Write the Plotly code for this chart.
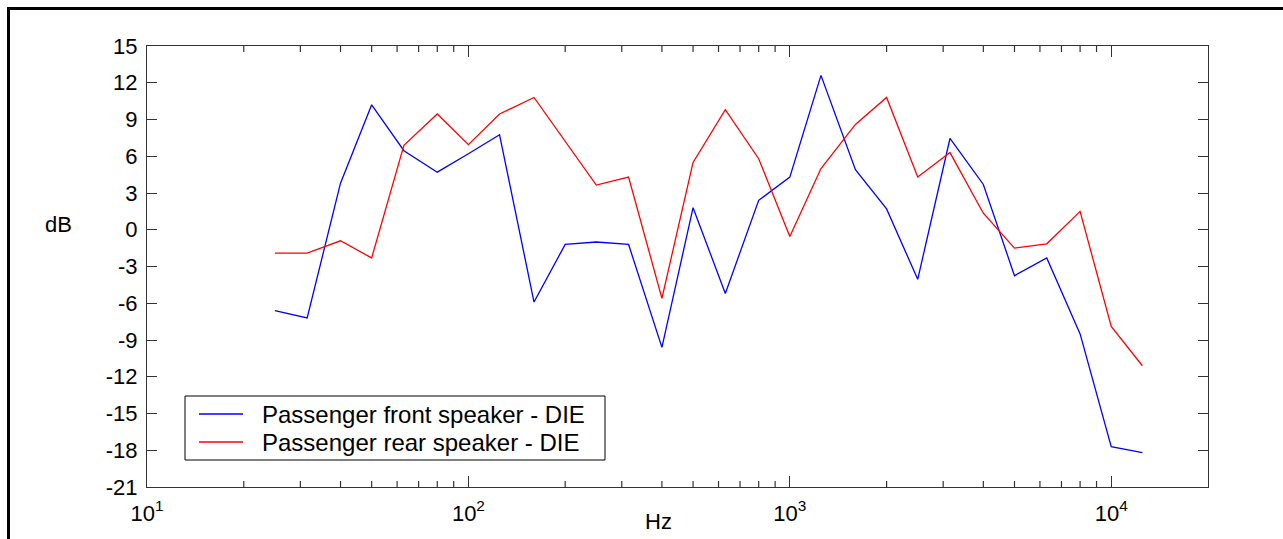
import plotly.graph_objects as go

freqs = [25, 31.5, 40, 50, 63, 80, 100, 125, 160, 200, 250, 315, 400, 500, 630,
         800, 1000, 1250, 1600, 2000, 2500, 3150, 4000, 5000, 6300, 8000, 10000, 12500]
front_db = [-6.6, -7.2, 3.8, 10.2, 6.45, 4.7, 6.2, 7.75, -5.9, -1.2, -1.0, -1.2, -9.6, 1.8, -5.2,
            2.4, 4.3, 12.6, 4.9, 1.7, -4.05, 7.45, 3.7, -3.75, -2.3, -8.5, -17.7, -18.2]
rear_db = [-1.9, -1.9, -0.9, -2.3, 6.9, 9.45, 6.95, 9.45, 10.8, 7.2, 3.65, 4.3, -5.6, 5.5, 9.8,
           5.8, -0.55, 5.0, 8.6, 10.8, 4.3, 6.3, 1.35, -1.5, -1.15, 1.5, -7.9, -11.1]

series_names = ["Passenger front speaker - DIE", "Passenger rear speaker - DIE"]
series_colors = ["#0000FF", "#FF0000"]

y_ticks = list(range(-21, 16, 3))
x_ticks = [10, 100, 1000, 10000]
x_ticktext = ["10<sup>1</sup>", "10<sup>2</sup>", "10<sup>3</sup>", "10<sup>4</sup>"]
x_minor = [m * d for d in (10, 100, 1000) for m in range(2, 10)]

W, H = 1283, 539
L, R, T, B = 147, 75, 46, 52
pw, ph = W - L - R, H - T - B
FONT = "Liberation Sans, Arial"
AX = "#333333"


def px_x(p):
    return (p - L) / pw


def px_y(p):
    return (H - B - p) / ph


fig = go.Figure()
for yv, nm, col in zip([front_db, rear_db], series_names, series_colors):
    fig.add_trace(go.Scatter(x=freqs, y=yv, mode="lines", name=nm,
                             line=dict(color=col, width=1.3), showlegend=False))

tickfont = dict(family=FONT, size=22, color="black")

fig.update_layout(
    xaxis=dict(type="log", range=[1, 4.30103], tickmode="array", tickvals=x_ticks,
               ticktext=x_ticktext, ticklen=11, ticklabelstandoff=6,
               showgrid=False, zeroline=False, showline=True, linecolor=AX, linewidth=1.2,
               mirror="ticks", ticks="inside", tickcolor=AX, tickwidth=1.2, tickfont=tickfont),
    yaxis=dict(range=[-21, 15], tickmode="array", tickvals=y_ticks,
               ticktext=[str(v) for v in y_ticks], ticklen=10, ticklabelstandoff=4,
               showgrid=False, zeroline=False, showline=True, linecolor=AX, linewidth=1.2,
               mirror="ticks", ticks="inside", tickcolor=AX, tickwidth=1.2, tickfont=tickfont),
)

# minor log ticks (bottom and top, pointing inward)
mlen = 6 / ph
for xv in x_minor:
    for y0, y1 in ((0, mlen), (1, 1 - mlen)):
        fig.add_shape(type="line", xref="x", yref="y domain", x0=xv, x1=xv, y0=y0, y1=y1,
                      line=dict(color=AX, width=1.2), layer="above")

fig.add_annotation(text="dB", x=px_x(58), y=px_y(224), xref="paper", yref="paper",
                   xanchor="center", yanchor="middle",
                   showarrow=False, font=dict(family=FONT, size=22, color="black"))
fig.add_annotation(text="Hz", x=px_x(658), y=px_y(521), xref="paper", yref="paper",
                   xanchor="center", yanchor="middle",
                   showarrow=False, font=dict(family=FONT, size=22, color="black"))

# outer figure frame
fig.add_shape(type="rect", xref="paper", yref="paper",
              x0=px_x(8.5), x1=px_x(1300), y0=px_y(560), y1=px_y(8.5),
              line=dict(color="black", width=3), fillcolor="rgba(0,0,0,0)")
# legend box
fig.add_shape(type="rect", xref="paper", yref="paper", layer="above",
              x0=px_x(185), x1=px_x(605), y0=px_y(460), y1=px_y(396),
              line=dict(color="black", width=1), fillcolor="white")
for i, (nm, col) in enumerate(zip(series_names, series_colors)):
    yc = px_y(414 + 28 * i)
    fig.add_shape(type="line", xref="paper", yref="paper", layer="above",
                  x0=px_x(199), x1=px_x(243), y0=yc, y1=yc,
                  line=dict(color=col, width=1.3))
    fig.add_annotation(text=nm, x=px_x(260), y=yc, xref="paper", yref="paper",
                       xanchor="left", yanchor="middle", showarrow=False,
                       font=dict(family=FONT, size=24, color="black"))

fig.update_layout(
    width=W, height=H,
    margin=dict(l=L, r=R, t=T, b=B),
    paper_bgcolor="white", plot_bgcolor="white",
    font=dict(family=FONT, size=22, color="black"),
    showlegend=False,
)

fig.write_html("out.html")
